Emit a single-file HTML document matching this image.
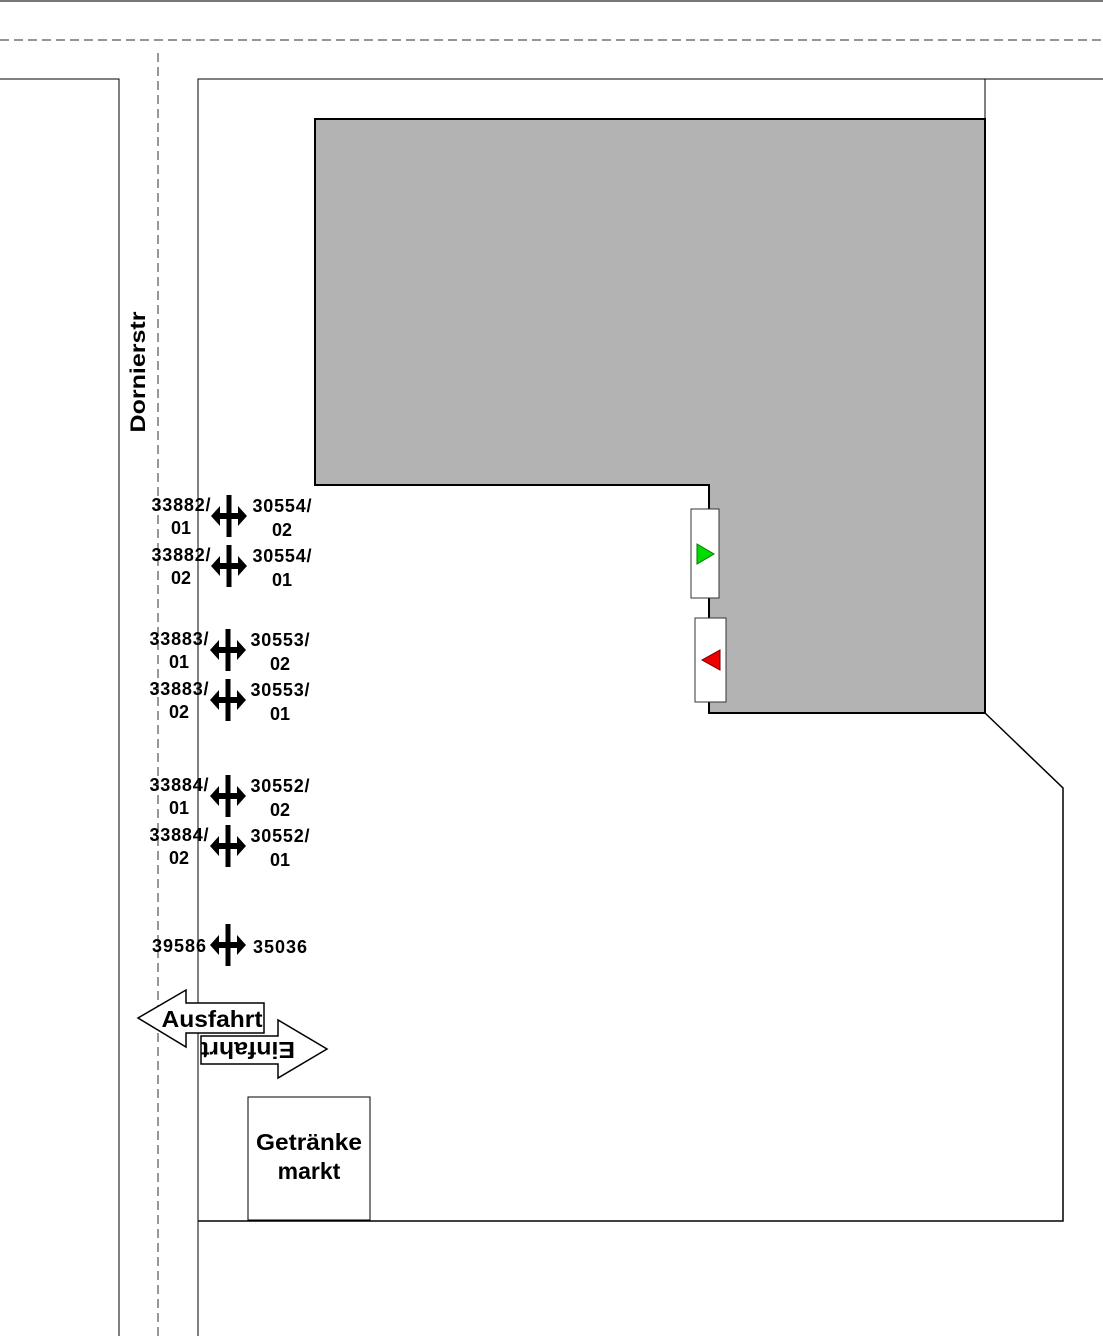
<!DOCTYPE html>
<html><head><meta charset="utf-8"><style>html,body{margin:0;padding:0;background:#fff}svg{display:block}text{font-family:"Liberation Sans",sans-serif;font-weight:bold;fill:#000}</style></head>
<body>
<svg width="1103" height="1336" viewBox="0 0 1103 1336" xmlns="http://www.w3.org/2000/svg">
<line x1="0" y1="1" x2="1103" y2="1" stroke="#777" stroke-width="2"/>
<line x1="0" y1="40" x2="1103" y2="40" stroke="#555" stroke-width="1.2" stroke-dasharray="9,5"/>
<line x1="158" y1="53" x2="158" y2="1336" stroke="#777" stroke-width="1.5" stroke-dasharray="9,5"/>
<polyline points="0,79 119,79 119,1336" fill="none" stroke="#000" stroke-width="1"/>
<polyline points="1103,79 198,79 198,1336" fill="none" stroke="#000" stroke-width="1"/>
<line x1="985" y1="79" x2="985" y2="119" stroke="#000"/>
<polyline points="985,713 1063,788 1063,1221 198,1221" fill="none" stroke="#000" stroke-width="1.5"/>
<polygon points="315,119 985,119 985,713 709,713 709,485 315,485" fill="#b3b3b3" stroke="#000" stroke-width="2"/>
<rect x="691" y="509" width="28" height="89" fill="#fff" stroke="#333"/>
<polygon points="697,544 714,554 697,564" fill="#00dd00" stroke="#070"/>
<rect x="695" y="618" width="31" height="84" fill="#fff" stroke="#333"/>
<polygon points="720,650 720,670 702,660" fill="#ee0000" stroke="#700"/>
<text transform="translate(145,372) rotate(-90)" text-anchor="middle" font-size="21" textLength="121" lengthAdjust="spacingAndGlyphs">Dornierstr</text>
<defs><g id="s"><rect x="-2.5" y="-21" width="5" height="42" fill="#000"/><polygon points="-18,0 -9,-10 -9,-3 9,-3 9,-10 18,0 9,10 9,3 -9,3 -9,10" fill="#000"/></g></defs>
<g font-size="18">
<use href="#s" x="229" y="516"/><text x="181" y="511" text-anchor="middle" textLength="59">33882/</text><text x="181" y="534" text-anchor="middle">01</text><text x="282" y="512" text-anchor="middle" textLength="59">30554/</text><text x="282" y="536" text-anchor="middle">02</text>
<use href="#s" x="229" y="566"/><text x="181" y="561" text-anchor="middle" textLength="59">33882/</text><text x="181" y="584" text-anchor="middle">02</text><text x="282" y="562" text-anchor="middle" textLength="59">30554/</text><text x="282" y="586" text-anchor="middle">01</text>
<use href="#s" x="228" y="650"/><text x="179" y="645" text-anchor="middle" textLength="59">33883/</text><text x="179" y="668" text-anchor="middle">01</text><text x="280" y="646" text-anchor="middle" textLength="59">30553/</text><text x="280" y="670" text-anchor="middle">02</text>
<use href="#s" x="228" y="700"/><text x="179" y="695" text-anchor="middle" textLength="59">33883/</text><text x="179" y="718" text-anchor="middle">02</text><text x="280" y="696" text-anchor="middle" textLength="59">30553/</text><text x="280" y="720" text-anchor="middle">01</text>
<use href="#s" x="228" y="796"/><text x="179" y="791" text-anchor="middle" textLength="59">33884/</text><text x="179" y="814" text-anchor="middle">01</text><text x="280" y="792" text-anchor="middle" textLength="59">30552/</text><text x="280" y="816" text-anchor="middle">02</text>
<use href="#s" x="228" y="846"/><text x="179" y="841" text-anchor="middle" textLength="59">33884/</text><text x="179" y="864" text-anchor="middle">02</text><text x="280" y="842" text-anchor="middle" textLength="59">30552/</text><text x="280" y="866" text-anchor="middle">01</text>
<use href="#s" x="228" y="945"/><text x="179" y="952" text-anchor="middle" textLength="54">39586</text><text x="280" y="953" text-anchor="middle" textLength="54">35036</text>
</g>
<polygon points="138,1018 186,990 186,1003 264,1003 264,1033 186,1033 186,1047" fill="#fff" stroke="#000" stroke-width="1.5"/>
<text x="212" y="1027" text-anchor="middle" font-size="23" textLength="101" lengthAdjust="spacingAndGlyphs">Ausfahrt</text>
<polygon points="201,1036 278,1036 278,1020 327,1049 278,1078 278,1064 201,1064" fill="#fff" stroke="#000" stroke-width="1.5"/>
<text transform="translate(248,1042) rotate(180)" text-anchor="middle" font-size="23" textLength="94" lengthAdjust="spacingAndGlyphs">Einfahrt</text>
<rect x="248" y="1097" width="122" height="123" fill="#fff" stroke="#000"/>
<text x="309" y="1150" text-anchor="middle" font-size="23" textLength="106" lengthAdjust="spacingAndGlyphs">Getränke</text>
<text x="309" y="1179" text-anchor="middle" font-size="23">markt</text>
</svg>
</body></html>
